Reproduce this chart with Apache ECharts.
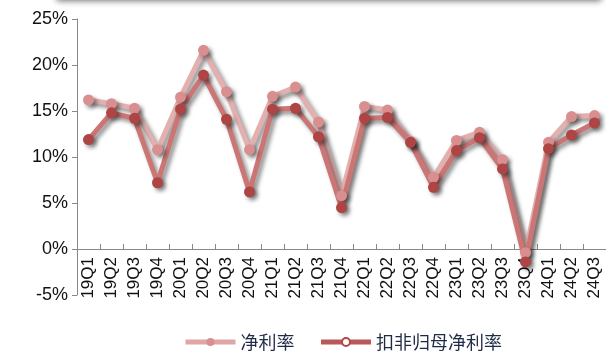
<!DOCTYPE html>
<html><head><meta charset="utf-8">
<script src="https://cdn.jsdelivr.net/npm/echarts@6/dist/echarts.min.js"></script>
<style>html,body{margin:0;padding:0;background:#fff}#c{width:606px;height:352px}</style>
</head><body><div id="c"></div>
<script>
var categories = ['19Q1','19Q2','19Q3','19Q4','20Q1','20Q2','20Q3','20Q4','21Q1','21Q2','21Q3','21Q4','22Q1','22Q2','22Q3','22Q4','23Q1','23Q2','23Q3','23Q4','24Q1','24Q2','24Q3'];
var netMargin = [16.2,15.8,15.3,10.8,16.5,21.6,17.1,10.8,16.6,17.6,13.8,5.8,15.5,15.1,11.7,7.8,11.8,12.7,9.7,-0.4,11.6,14.4,14.5];
var deductedNetMargin = [11.9,14.8,14.2,7.2,15.2,18.9,14.1,6.2,15.2,15.3,12.2,4.5,14.2,14.3,11.6,6.7,10.7,12.1,8.7,-1.4,10.9,12.4,13.7];
var yTicks = {min:-5, max:25, interval:5};
var names = ['净利率','扣非归母净利率'];

var chart = echarts.init(document.getElementById('c'));
var shadow = {shadowColor:'rgba(0,0,0,0.45)', shadowBlur:4, shadowOffsetX:3, shadowOffsetY:3};
chart.setOption({
  animation:false,
  graphic:[{type:'rect', shape:{x:56,y:-12,width:546,height:12,r:4}, style:{fill:'#c8c8c8', shadowColor:'rgba(0,0,0,0.55)', shadowBlur:6, shadowOffsetY:1}, z:-1}],
  grid:{left:77, top:19, width:533, height:276, containLabel:false},
  legend:{
    left:183, top:333, padding:0, itemWidth:50, itemHeight:10, itemGap:24,
    textStyle:{fontFamily:'Noto Sans CJK SC', fontSize:18, color:'#1f2b45'},
    data:[
      {name:names[0], itemStyle:{color:'#D98F8F', borderWidth:0}, lineStyle:{color:'#E0A5A5', width:5, shadowBlur:0, shadowOffsetX:0, shadowOffsetY:0}},
      {name:names[1], itemStyle:{color:'#fff', borderColor:'#B04848', borderWidth:2}, lineStyle:{color:'#B95A5A', width:5, shadowBlur:0, shadowOffsetX:0, shadowOffsetY:0}}
    ]
  },
  xAxis:{
    type:'category', data:categories, boundaryGap:true, offset:-46,
    axisLine:{onZero:false, lineStyle:{color:'#888', width:1}},
    axisTick:{show:true, inside:true, length:5, lineStyle:{color:'#888'}},
    axisLabel:{rotate:90, fontFamily:'Liberation Sans', fontSize:17, color:'#111', margin:8, interval:0}
  },
  yAxis:{
    type:'value', min:yTicks.min, max:yTicks.max, interval:yTicks.interval,
    splitLine:{show:false},
    axisLine:{show:true, lineStyle:{color:'#888'}},
    axisTick:{show:true, length:5, lineStyle:{color:'#888'}},
    axisLabel:{formatter:'{value}%', fontFamily:'Liberation Sans', fontSize:18, color:'#111', margin:9}
  },
  series:[
    {name:names[0], type:'line', data:netMargin, symbol:'circle', symbolSize:11,
     lineStyle:Object.assign({color:'#E3AFAF', width:5}, shadow),
     itemStyle:Object.assign({color:'#D98F8F'}, shadow)},
    {name:names[1], type:'line', data:deductedNetMargin, symbol:'circle', symbolSize:11,
     lineStyle:Object.assign({color:'#CC7575', width:5}, shadow),
     itemStyle:Object.assign({color:'#AE4444'}, shadow)}
  ]
});
</script></body></html>
